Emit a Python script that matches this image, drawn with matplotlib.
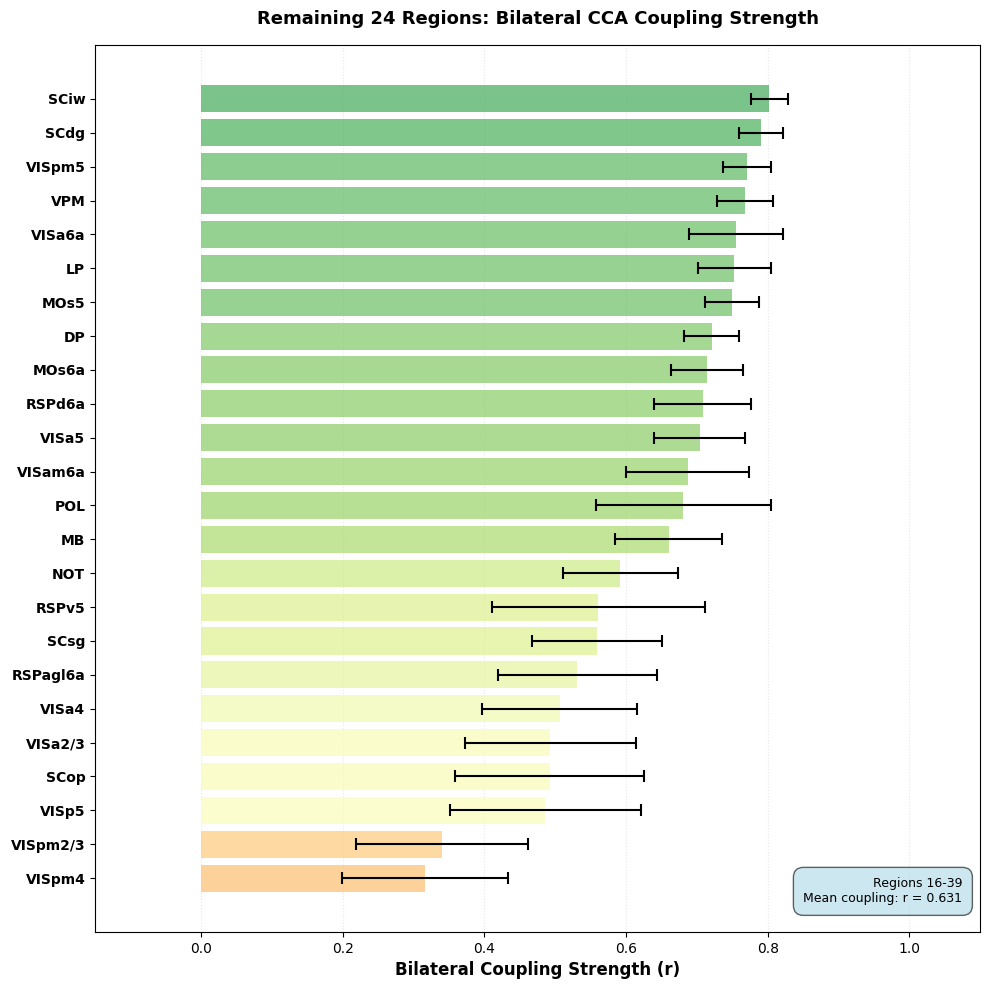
import numpy as np
import matplotlib
matplotlib.use('Agg')
import matplotlib.pyplot as plt
from matplotlib.colors import Normalize

regions = ['SCiw', 'SCdg', 'VISpm5', 'VPM', 'VISa6a', 'LP', 'MOs5', 'DP',
           'MOs6a', 'RSPd6a', 'VISa5', 'VISam6a', 'POL', 'MB', 'NOT', 'RSPv5',
           'SCsg', 'RSPagl6a', 'VISa4', 'VISa2/3', 'SCop', 'VISp5',
           'VISpm2/3', 'VISpm4']
coupling = [0.802, 0.791, 0.771, 0.768, 0.755, 0.753, 0.750, 0.721,
            0.714, 0.708, 0.704, 0.687, 0.681, 0.660, 0.592, 0.561,
            0.559, 0.531, 0.506, 0.493, 0.492, 0.486,
            0.340, 0.316]
errors = [0.026, 0.031, 0.034, 0.040, 0.066, 0.052, 0.038, 0.039,
          0.051, 0.069, 0.064, 0.087, 0.124, 0.076, 0.081, 0.150,
          0.092, 0.112, 0.109, 0.121, 0.133, 0.135,
          0.122, 0.117]

fig, ax = plt.subplots(figsize=(9.9, 9.9), dpi=100)

y = np.arange(len(regions))
cmap = plt.cm.RdYlGn
norm = Normalize(vmin=0.0, vmax=0.95)
colors = [cmap(norm(v)) for v in coupling]

ax.barh(y, coupling, xerr=errors, color=colors, alpha=0.7,
        error_kw=dict(ecolor='black', lw=1.5, capsize=4, capthick=1.5))

ax.set_yticks(y)
ax.set_yticklabels(regions, fontweight='bold', fontsize=10)
ax.invert_yaxis()
ax.set_xlim(-0.15, 1.1)
ax.set_xlabel('Bilateral Coupling Strength (r)', fontsize=12, fontweight='bold')
ax.set_title('Remaining 24 Regions: Bilateral CCA Coupling Strength',
             fontsize=13, fontweight='bold', pad=15)
ax.grid(axis='x', alpha=0.3, linestyle=':')
ax.set_axisbelow(True)

mean_r = np.mean(coupling)
ax.text(0.98, 0.03, 'Regions 16-39\nMean coupling: r = %.3f' % mean_r,
        transform=ax.transAxes, ha='right', va='bottom', fontsize=9,
        bbox=dict(boxstyle='round,pad=0.8', facecolor='lightblue', alpha=0.6))

plt.subplots_adjust(left=0.096, right=0.990, top=0.9545, bottom=0.0586)
plt.savefig('out.png', dpi=100)
